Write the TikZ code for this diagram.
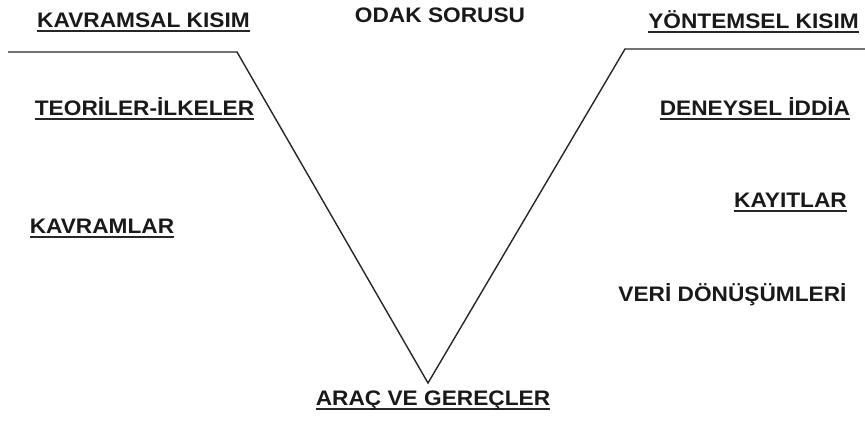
\documentclass[tikz,border=0pt]{standalone}
\usepackage{fontspec}
\setmainfont{Liberation Sans}
\begin{document}
\begin{tikzpicture}[x=1pt,y=-1pt,
  lbl/.style={font=\fontsize{21}{24}\selectfont\bfseries, inner sep=0pt, xscale=1.08, text=black!90},
  ul/.style={lbl, append after command={
      \pgfextra{\draw[line width=2pt,black!85] ([yshift=-3.5pt]\tikzlastnode.base west) -- ([yshift=-3.5pt]\tikzlastnode.base east);}}},
  vline/.style={line width=1.4pt, black!85}]
\useasboundingbox (0,0) rectangle (865,421);
\node[ul] (kk) at (143.5,20) {KAVRAMSAL KISIM};
\node[lbl] (os) at (440,15) {ODAK SORUSU};
\node[ul] (yk) at (753.5,20) {YÖNTEMSEL KISIM};
\node[ul] (ti) at (144.5,107) {TEORİLER-İLKELER};
\node[ul] (di) at (755,107) {DENEYSEL İDDİA};
\node[ul] (kv) at (102,226) {KAVRAMLAR};
\node[ul] (ky) at (790.5,200) {KAYITLAR};
\node[lbl] (vd) at (732.5,295) {VERİ DÖNÜŞÜMLERİ};
\node[ul] (ag) at (433,400) {ARAÇ VE GEREÇLER};
\coordinate (l0) at (8,52);
\coordinate (l1) at (237,52);
\coordinate (v) at (428,383);
\coordinate (r1) at (625,49);
\coordinate (r0) at (865,49);
\draw[vline] (l0) -- (l1) -- (v) -- (r1) -- (r0);
\end{tikzpicture}
\end{document}
